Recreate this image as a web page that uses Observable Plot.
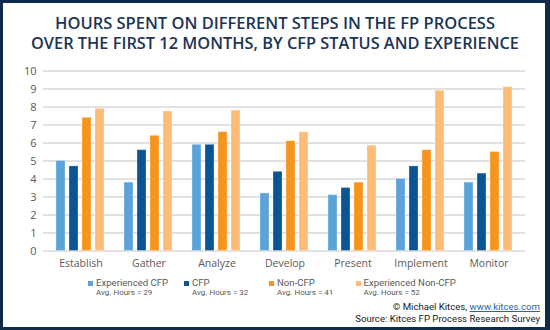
<!DOCTYPE html>
<html>
<head>
<meta charset="utf-8">
<script src="https://cdn.jsdelivr.net/npm/d3@7"></script>
<script src="https://cdn.jsdelivr.net/npm/@observablehq/plot@0.6"></script>
<style>
  html, body { margin: 0; padding: 0; background: #fff; }
  #frame { position: relative; width: 550px; height: 330px; background: #0f2b4c; overflow: hidden; font-family: "Open Sans", sans-serif; }
  #inner { position: absolute; left: 3px; top: 3px; width: 542px; height: 324px; background: #fff; }
  .layer { position: absolute; left: 0; top: 55px; }
  #title { position: absolute; left: 0; top: 0; }
  .leg { position: absolute; top: 276px; color: #595959; font-family: Roboto, sans-serif; }
  .leg .sw { position: absolute; left: 0; top: 4.5px; width: 5px; height: 5px; }
  .leg .nm { position: absolute; left: 8px; top: 1px; font-size: 9.6px; white-space: nowrap; line-height: 11.2px; }
  .leg .av { position: absolute; left: 8px; top: 12.4px; font-size: 8px; white-space: nowrap; line-height: 9.4px; }
  #credit { position: absolute; right: 10px; top: 301.4px; text-align: right; font-family: Roboto, sans-serif; font-size: 9.6px; line-height: 11.2px; color: #1a1a1a; }
  #credit div { height: 11.2px; white-space: nowrap; }
  #credit a { color: #2a62b0; text-decoration: underline; }
</style>
</head>
<body>
<div id="frame">
  <div id="inner"></div>
  <svg id="title" width="550" height="55"></svg>
  <div id="grid" class="layer"></div>
  <div id="bars" class="layer"></div>
  <div id="legend"></div>
  <div id="credit"><div>© Michael Kitces, <a>www.kitces.com</a></div><div>Source: Kitces FP Process Research Survey</div></div>
</div>
<script>
// ---- data ----
const titleLines = [
  "HOURS SPENT ON DIFFERENT STEPS IN THE FP PROCESS",
  "OVER THE FIRST 12 MONTHS, BY CFP STATUS AND EXPERIENCE"
];
const steps = ["Establish", "Gather", "Analyze", "Develop", "Present", "Implement", "Monitor"];
const series = ["Experienced CFP", "CFP", "Non-CFP", "Experienced Non-CFP"];
const avgHours = [29, 32, 41, 52];
const expCFP    = [5.0, 3.8, 5.9, 3.2, 3.1, 4.0, 3.8];
const cfp       = [4.7, 5.6, 5.9, 4.4, 3.5, 4.7, 4.3];
const nonCFP    = [7.4, 6.4, 6.6, 6.1, 3.8, 5.6, 5.5];
const expNonCFP = [7.9, 7.75, 7.8, 6.6, 5.85, 8.9, 9.1];
const yTicks = [0, 1, 2, 3, 4, 5, 6, 7, 8, 9, 10];
const colors = ["#5ba3d9", "#0a5494", "#f7941d", "#fdbd79"];

// ---- table ----
const valuesBySeries = [expCFP, cfp, nonCFP, expNonCFP];
const table = [];
steps.forEach((step, i) => {
  series.forEach((s, j) => table.push({step, series: s, value: valuesBySeries[j][i]}));
});

// ---- title ----
const tsvg = d3.select("#title");
const titleWidths = [440, 488];
const titleBase = [28.5, 48.5];
titleLines.forEach((t, i) => {
  tsvg.append("text")
    .attr("x", 275).attr("y", titleBase[i])
    .attr("text-anchor", "middle")
    .attr("textLength", titleWidths[i])
    .attr("lengthAdjust", "spacingAndGlyphs")
    .attr("font-family", "'Open Sans', sans-serif")
    .attr("font-weight", 600)
    .attr("font-size", 15.4)
    .attr("fill", "#1b3556")
    .text(t);
});

// ---- shared dims ----
const W = 550, H = 220, mL = 43, mR = 25, mT = 15.5, mB = 24.5;

// grid + y axis (unfaceted so gridlines run across the whole frame)
const gridPlot = Plot.plot({
  width: W, height: H, marginLeft: mL, marginRight: mR, marginTop: mT, marginBottom: mB,
  style: {background: "transparent", fontFamily: "'Open Sans', sans-serif", fontSize: "11px", color: "#595959"},
  y: {domain: [0, 10]},
  marks: [
    Plot.gridY(yTicks, {stroke: "#d9d9d9", strokeOpacity: 1, strokeWidth: 1.3}),
    Plot.axisY(yTicks, {tickSize: 0, tickPadding: 7, label: null, fill: "#595959", fontSize: 11})
  ]
});
document.getElementById("grid").appendChild(gridPlot);

// bars, grouped by step
const barPlot = Plot.plot({
  width: W, height: H, marginLeft: mL, marginRight: mR, marginTop: mT, marginBottom: mB,
  style: {background: "transparent", fontFamily: "'Open Sans', sans-serif", fontSize: "10.5px", color: "#595959"},
  fx: {domain: steps, paddingInner: 0.284, paddingOuter: 0.142, label: null},
  x: {domain: series, paddingInner: 0.29, paddingOuter: 0, axis: null},
  y: {domain: [0, 10], axis: null},
  color: {domain: series, range: colors},
  marks: [
    Plot.barY(table, {fx: "step", x: "series", y: "value", fill: "series",
      stroke: "#ffffff", strokeOpacity: 0.35, strokeWidth: 0.8}),
    Plot.axisFx({anchor: "bottom", tickSize: 0, tickPadding: 9, label: null, fill: "#595959", fontSize: 10.5})
  ]
});
document.getElementById("bars").appendChild(barPlot);

// ---- legend ----
const legendX = [88, 184, 269, 355.5];
const leg = d3.select("#legend");
series.forEach((s, i) => {
  const item = leg.append("div").attr("class", "leg").style("left", legendX[i] + "px");
  item.append("div").attr("class", "sw").style("background", colors[i]);
  item.append("div").attr("class", "nm").text(s);
  item.append("div").attr("class", "av").text("Avg. Hours = " + avgHours[i]);
});
</script>
</body>
</html>
